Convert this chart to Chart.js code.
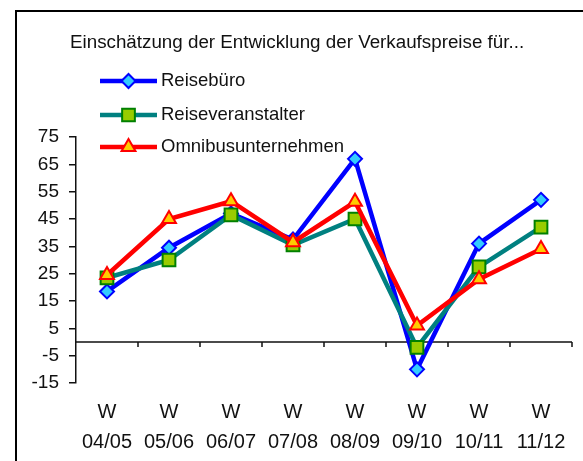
<!DOCTYPE html>
<html>
<head>
<meta charset="utf-8">
<script src="https://cdn.jsdelivr.net/npm/chart.js@4.4.0/dist/chart.umd.min.js"></script>
<style>
  body { margin: 0; background: #fff; overflow: hidden; }
  #frame { position: absolute; left: 15px; top: 10px; width: 700px; height: 600px; border-left: 2px solid #000; border-top: 2px solid #000; }
  #wrap { position: absolute; left: 0; top: 0; width: 583px; height: 461px; }
</style>
</head>
<body>
<div id="frame"></div>
<div id="wrap"><canvas id="myChart"></canvas></div>
<script>
const categories = [['W', '04/05'], ['W', '05/06'], ['W', '06/07'], ['W', '07/08'], ['W', '08/09'], ['W', '09/10'], ['W', '10/11'], ['W', '11/12']];
const reisebuero = [18.5, 34.5, 47, 37.5, 67, -10, 36, 52];
const reiseveranstalter = [23.5, 30, 46.5, 35.5, 45, -2, 27.5, 42];
const omnibus = [24.5, 45, 51.5, 36.5, 51.3, 6, 23, 34];
const yTicks = [-15, -5, 5, 15, 25, 35, 45, 55, 65, 75];
const titleText = 'Einschätzung der Entwicklung der Verkaufspreise für...';
const seriesNames = ['Reisebüro', 'Reiseveranstalter', 'Omnibusunternehmen'];

const font = "'Liberation Sans', Arial, sans-serif";

const makeSet = (label, data, line, fill, border, style, radius, order) => ({
    label: label,
    data: data,
    borderColor: line,
    borderWidth: 4.5,
    pointStyle: style,
    pointRadius: radius,
    pointBackgroundColor: fill,
    pointBorderColor: border,
    pointBorderWidth: 2,
    tension: 0,
    order: order
});

const datasets = [
    makeSet(seriesNames[0], reisebuero, '#0000ff', '#33ccff', '#0000ff', 'rectRot', 7, 3),
    makeSet(seriesNames[1], reiseveranstalter, '#008080', '#99cc00', '#008000', 'rect', 9, 2),
    makeSet(seriesNames[2], omnibus, '#ff0000', '#ffcc00', '#ff0000', 'triangle', 8, 1)
];

//zero line, category ticks, title and legend
const overlay = {
    id: 'overlay',
    beforeDatasetsDraw(chart) {
        const {ctx, chartArea, scales: {x, y}} = chart;
        const y0 = y.getPixelForValue(0), half = (chartArea.right - chartArea.left) / categories.length / 2;
        ctx.save();
        ctx.strokeStyle = '#111';
        ctx.lineWidth = 1.5;
        ctx.beginPath();
        ctx.moveTo(chartArea.left, y0);
        ctx.lineTo(chartArea.right, y0);
        for (let i = 0; i < categories.length; i++) {
            const px = x.getPixelForValue(i) + half;
            ctx.moveTo(px, y0);
            ctx.lineTo(px, y0 + 5);
        }
        ctx.stroke();
        ctx.restore();
    },
    afterDraw(chart) {
        const ctx = chart.ctx;
        ctx.save();
        ctx.fillStyle = '#111';
        ctx.textBaseline = 'middle';
        ctx.font = '18.8px ' + font;
        ctx.fillText(titleText, 70, 43);
        ctx.font = '18.5px ' + font;
        const rows = [81, 115, 147];
        datasets.forEach((ds, i) => {
            ctx.strokeStyle = ds.borderColor;
            ctx.lineWidth = 4.5;
            ctx.beginPath();
            ctx.moveTo(100, rows[i]);
            ctx.lineTo(157, rows[i]);
            ctx.stroke();
            ctx.fillStyle = ds.pointBackgroundColor;
            ctx.strokeStyle = ds.pointBorderColor;
            ctx.lineWidth = 2;
            Chart.helpers.drawPoint(ctx, {pointStyle: ds.pointStyle, radius: ds.pointRadius, rotation: 0, borderWidth: 2}, 128.5, rows[i]);
            ctx.fillStyle = '#111';
            ctx.fillText(ds.label, 161, rows[i]);
        });
        ctx.restore();
    }
};

const config = {
    type: 'line',
    data: {
        labels: categories,
        datasets: datasets
    },
    options: {
        responsive: true,
        maintainAspectRatio: false,
        animation: false,
        events: [],
        layout: {
            padding: {top: 137, right: 7, left: 0, bottom: 0}
        },
        plugins: {
            legend: {display: false},
            title: {display: false},
            tooltip: {enabled: false}
        },
        scales: {
            x: {
                type: 'category',
                offset: true,
                grid: {display: false, drawTicks: false},
                border: {display: false},
                ticks: {
                    color: '#111',
                    padding: 14,
                    maxRotation: 0,
                    autoSkip: false,
                    font: {family: font, size: 20, lineHeight: 1.5}
                },
                afterFit: (scale) => { scale.height = 78 }
            },
            y: {
                min: -15,
                max: 75,
                afterBuildTicks: (scale) => { scale.ticks = yTicks.map(v => ({value: v})) },
                grid: {drawOnChartArea: false, drawTicks: true, tickLength: 7, color: '#111', lineWidth: 1.5},
                border: {display: true, color: '#111', width: 1.5},
                ticks: {
                    color: '#111',
                    padding: 10,
                    font: {family: font, size: 19}
                },
                afterFit: (scale) => { scale.width = 76 }
            }
        }
    },
    plugins: [overlay]
};

document.addEventListener('DOMContentLoaded', () => {
    new Chart(document.getElementById('myChart'), config);
});
</script>
</body>
</html>
